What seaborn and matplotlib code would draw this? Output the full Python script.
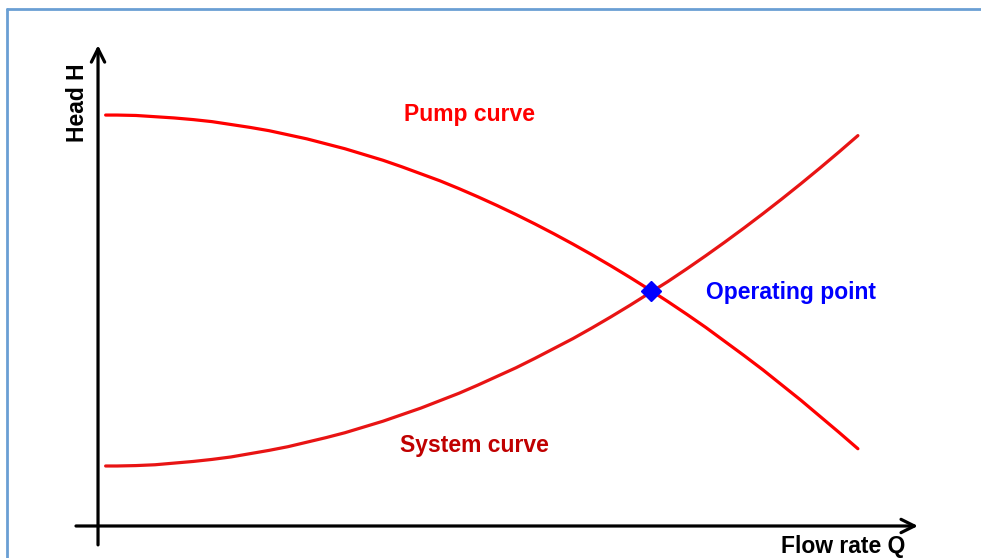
import matplotlib
matplotlib.use("Agg")
import matplotlib.pyplot as plt
import seaborn as sns
import pandas as pd

# flow rate Q (arbitrary units) and head H
flow_q = [1, 2.5, 5, 7.5, 10, 12.5, 15, 17.5, 20, 22.5, 25, 27.5, 30, 32.5, 35, 37.5, 40,
          42.5, 45, 47.5, 50, 52.5, 55, 57.5, 60, 62.5, 65, 67.5, 70, 72.5, 75, 77.5, 80,
          82.5, 85, 87.5, 90, 92.5, 95, 97.5, 100]
pump_h = [100, 100, 99.9, 99.6, 99.3, 98.9, 98.4, 97.7, 97.0, 96.2, 95.2, 94.2, 93.0,
          91.8, 90.4, 89.0, 87.4, 85.7, 84.0, 82.1, 80.1, 78.0, 75.8, 73.5, 71.1, 68.6,
          66.0, 63.3, 60.5, 57.6, 54.6, 51.5, 48.3, 44.9, 41.5, 38.0, 34.3, 30.6, 26.7,
          22.8, 18.8]
system_h = [14.6, 14.6, 14.7, 14.9, 15.3, 15.7, 16.2, 16.8, 17.6, 18.4, 19.3, 20.4, 21.5,
            22.7, 24.1, 25.5, 27.1, 28.7, 30.5, 32.3, 34.3, 36.4, 38.5, 40.8, 43.2, 45.6,
            48.2, 50.9, 53.7, 56.6, 59.5, 62.6, 65.8, 69.1, 72.5, 76.0, 79.6, 83.3, 87.1,
            91.0, 95.0]
op_q = [72.8]
op_h = [57.1]

df = pd.DataFrame({"Q": flow_q, "Pump": pump_h, "System": system_h})

sns.set_style("white")
plt.rcParams["font.family"] = ["Liberation Sans", "DejaVu Sans"]

fig = plt.figure(figsize=(9.81, 5.58), dpi=100)
ax = fig.add_axes([0, 0, 1, 1])
ax.set_xlim(-12.9, 116.2)
ax.set_ylim(-7.79, 128.0)
ax.axis("off")

# frame lines of the original picture (top and left)
fig.add_artist(plt.Line2D([7 / 981, 1], [1 - 9 / 558, 1 - 9 / 558], color="#6a9fd4", lw=2))
fig.add_artist(plt.Line2D([7 / 981, 7 / 981], [0, 1 - 9 / 558], color="#6a9fd4", lw=2))

# axes with arrow heads
arrow = dict(arrowstyle="->", color="black", lw=2.3, mutation_scale=24, shrinkA=0, shrinkB=0)
ax.annotate("", xy=(0, 117.0), xytext=(0, -4.6), arrowprops=arrow)
ax.annotate("", xy=(107.9, 0), xytext=(-2.9, 0), arrowprops=arrow)

# curves
sns.lineplot(data=df, x="Q", y="Pump", color="#ff0000", lw=2.3, ax=ax)
sns.lineplot(data=df, x="Q", y="System", color="#e81414", lw=2.3, ax=ax)
ax.plot(op_q, op_h, marker="D", color="#0000ff", ms=10, ls="none", zorder=5)

fs = 16.5
ax.text(48.9, 100.2, "Pump curve", color="#ff0000", fontsize=fs, fontweight="bold",
        ha="center", va="center")
ax.text(49.6, 19.7, "System curve", color="#c00000", fontsize=fs, fontweight="bold",
        ha="center", va="center")
ax.text(80.0, 56.9, "Operating point", color="#0000ff", fontsize=fs, fontweight="bold",
        ha="left", va="center")
ax.text(-2.7, 103.0, "Head H", color="black", fontsize=fs, fontweight="bold",
        rotation=90, ha="center", va="center")
ax.text(106.2, -5.0, "Flow rate Q", color="black", fontsize=fs, fontweight="bold",
        ha="right", va="center")

fig.savefig("out.png", dpi=100)
